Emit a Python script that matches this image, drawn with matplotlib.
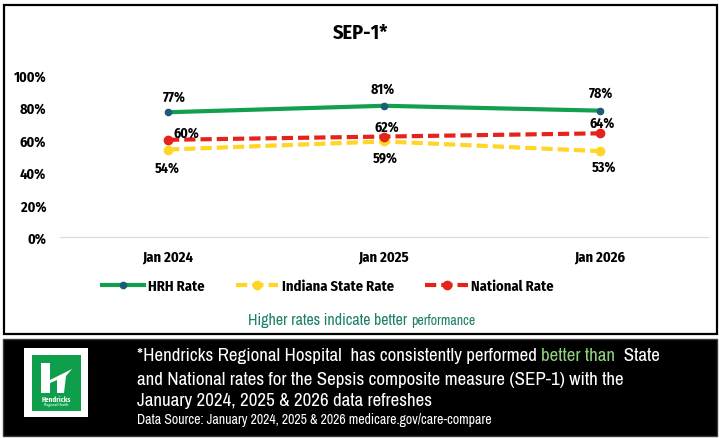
import numpy as np
import matplotlib.pyplot as plt
from matplotlib.patches import Rectangle, Polygon

# donnees
periodes = ["Jan 2024", "Jan 2025", "Jan 2026"]
hrh = [77, 81, 78]
indiana = [54, 59, 53]
national = [60, 62, 64]
yticks = [0, 20, 40, 60, 80, 100]

plt.rcParams['font.family'] = ['Archivo Narrow', 'DejaVu Sans']
gras = ['Fira Sans Condensed', 'DejaVu Sans']

fig = plt.figure(figsize=(7.19, 4.39), dpi=100)
W, H = 719, 439

def fx(px):
    return px / W

def fy(py):
    return 1 - py / H

# cadre du graphique
fig.patches.append(Rectangle((fx(4), fy(335)), fx(713), 329 / H, transform=fig.transFigure,
                             fill=False, edgecolor='black', linewidth=1.6))

ax = fig.add_axes([fx(60), fy(238), fx(648), (238 - 76) / H])
x = np.arange(len(periodes))

vert = '#12a04e'
jaune = '#ffd526'
rouge = '#e3231c'
tirets = (0, (2.7, 1.2))

ax.plot(x, hrh, color=vert, linewidth=3, marker='o', markersize=4.5,
        markerfacecolor='#1d5c74', markeredgecolor='#1d5c74', label='HRH Rate', zorder=4)
ax.plot(x, indiana, color=jaune, linewidth=3, linestyle=tirets, marker='o', markersize=6,
        label='Indiana State Rate', zorder=3)
ax.plot(x, national, color=rouge, linewidth=3, linestyle=tirets, marker='o', markersize=6,
        label='National Rate', zorder=3)

ax.set_xlim(-0.5, 2.5)
ax.set_ylim(0, 100)
ax.set_yticks(yticks)
ax.set_yticklabels([str(v) + "%" for v in yticks], fontsize=10.3, fontweight='bold', family=gras)
ax.set_xticks(x)
ax.set_xticklabels(periodes, fontsize=10.5, fontweight='bold', family=gras)
ax.tick_params(axis='both', length=0)
ax.tick_params(axis='y', pad=10)
ax.tick_params(axis='x', pad=9)
for s in ['top', 'right', 'left']:
    ax.spines[s].set_visible(False)
ax.spines['bottom'].set_color('#d9d9d9')

lab = dict(fontsize=10, fontweight='bold', family=gras, ha='center', va='center', color='black')
# etiquettes (decalages en pixels)
off_h = [(6, 16), (-1, 17), (1, 18)]
for i, v in enumerate(hrh):
    ax.annotate(str(v) + "%", (x[i], v), xytext=off_h[i], textcoords='offset pixels', **lab)
off_n = [(18, 7), (3, 10), (2, 11)]
for i, v in enumerate(national):
    ax.annotate(str(v) + "%", (x[i], v), xytext=off_n[i], textcoords='offset pixels', **lab)
off_i = [(-1, -18), (1, -16), (4, -15)]
for i, v in enumerate(indiana):
    ax.annotate(str(v) + "%", (x[i], v), xytext=off_i[i], textcoords='offset pixels', **lab)

fig.legend(loc='center', bbox_to_anchor=(fx(328), fy(287)), ncol=3, frameon=False,
           prop={'weight': 'bold', 'size': 10.5, 'family': gras}, handlelength=2.9,
           handletextpad=0.25, columnspacing=2.15)

fig.text(fx(361), fy(33), "SEP-1*", fontsize=14.5, fontweight='bold', family=gras,
         ha='center', va='center')

vert_txt = '#1b8068'
t1 = fig.text(fx(248), fy(321), "Higher rates indicate better ", fontsize=11.5,
              color=vert_txt, ha='left', va='center')

# pied de page noir
fig.patches.append(Rectangle((fx(3), fy(437)), fx(714), 97 / H, transform=fig.transFigure,
                             facecolor='black', edgecolor='#3a3a3a', linewidth=1))
fig.patches.append(Rectangle((fx(24), fy(418)), fx(64), 69 / H, transform=fig.transFigure,
                             facecolor='white', edgecolor='none'))
fig.patches.append(Rectangle((fx(32), fy(412)), fx(49), 56 / H, transform=fig.transFigure,
                             facecolor='#0f9f4c', edgecolor='none'))
# logo H
fig.patches.append(Rectangle((fx(41), fy(394)), fx(9), 30 / H, transform=fig.transFigure,
                             facecolor='white', edgecolor='none'))
fig.patches.append(Polygon([(fx(50), fy(381)), (fx(72), fy(370)), (fx(66), fy(377)),
                            (fx(64), fy(394)), (fx(57), fy(394)), (fx(57), fy(381)), (fx(50), fy(384))],
                           closed=True, transform=fig.transFigure, facecolor='white', edgecolor='none'))
fig.text(fx(56), fy(400), "Hendricks", fontsize=5, color='white', fontweight='bold', family=gras,
         ha='center', va='center')
fig.text(fx(56), fy(405), "Regional Health", fontsize=3, color='white', ha='center', va='center')

fig.canvas.draw()
r = fig.canvas.get_renderer()

def morceaux(x0, y0, parts, size):
    xx = x0
    for txt, col in parts:
        t = fig.text(xx, y0, txt, fontsize=size, color=col, ha='left', va='center')
        bb = t.get_window_extent(renderer=r)
        xx = xx + bb.width / W

morceaux(t1.get_window_extent(renderer=r).x1 / W, fy(321), [("performance", vert_txt)], 10)

morceaux(fx(137), fy(356), [("*Hendricks Regional Hospital  has consistently performed ", 'white'),
                             ("better than", '#8fd17f'), ("  State", 'white')], 13.7)
fig.text(fx(137), fy(380), "and National rates for the Sepsis composite measure (SEP-1) with the",
         fontsize=13.7, color='white', ha='left', va='center')
fig.text(fx(137), fy(401), "January 2024, 2025 & 2026 data refreshes",
         fontsize=13.7, color='white', ha='left', va='center')
fig.text(fx(137), fy(420), "Data Source: January 2024, 2025 & 2026 medicare.gov/care-compare",
         fontsize=10, color='white', ha='left', va='center')

fig.savefig("out.png", dpi=100)
